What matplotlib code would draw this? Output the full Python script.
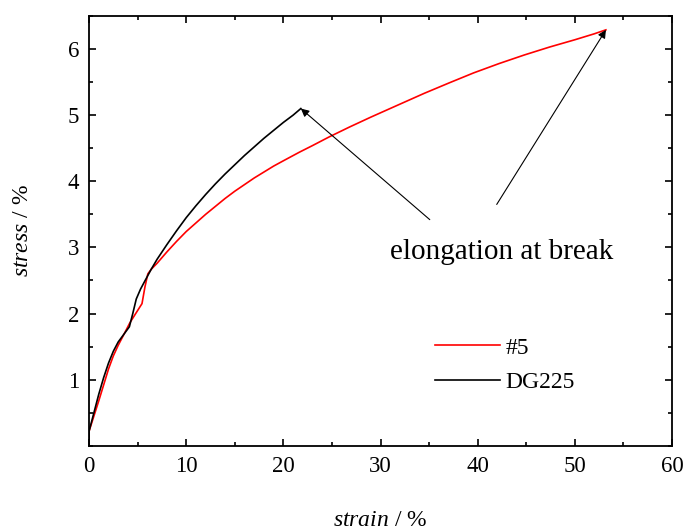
import numpy as np
import matplotlib
matplotlib.use("Agg")
import matplotlib.pyplot as plt
from matplotlib.ticker import MultipleLocator

# stress-strain curves
strain_5 = [0, 0, 0.5, 1, 1.5, 2, 2.5, 3, 3.5, 4.2, 4.8, 5.45, 5.75, 6.05, 6.4, 7, 8, 9,
            10, 11, 12, 13, 14, 15, 16, 17, 18, 19, 20, 21.65, 23, 24.7, 26.8, 29,
            31.9, 34.5, 37.1, 39.6, 42.2, 44.8, 47.4, 50, 52, 53.2]
stress_5 = [0, 0.22, 0.45, 0.68, 0.92, 1.16, 1.36, 1.52, 1.66, 1.86, 2.0, 2.15, 2.4, 2.6, 2.67, 2.76, 2.93, 3.09,
            3.24, 3.37, 3.5, 3.62, 3.74, 3.85, 3.95, 4.05, 4.14, 4.23, 4.31, 4.44, 4.54, 4.67, 4.82, 4.97,
            5.16, 5.33, 5.49, 5.64, 5.78, 5.91, 6.03, 6.14, 6.23, 6.29]

strain_dg = [0, 0, 0.5, 1, 1.5, 2, 2.5, 3, 3.5, 4.15, 4.5, 4.86, 5.3, 5.7, 6.4, 7, 8, 9,
             10, 11, 12, 13, 14, 15, 16, 17, 18, 19, 20, 21, 21.8]
stress_dg = [0, 0.22, 0.5, 0.78, 1.03, 1.25, 1.43, 1.57, 1.67, 1.8, 2.0, 2.22, 2.37, 2.48, 2.67, 2.82, 3.04, 3.25,
             3.45, 3.63, 3.8, 3.96, 4.11, 4.25, 4.39, 4.52, 4.65, 4.77, 4.89, 5.0, 5.1]

plt.rcParams['font.family'] = ['Liberation Serif', 'DejaVu Serif']
plt.rcParams['mathtext.fontset'] = 'custom'
plt.rcParams['mathtext.rm'] = 'Liberation Serif'
plt.rcParams['mathtext.it'] = 'Liberation Serif:italic'

fig, ax = plt.subplots(figsize=(6.85, 5.32), dpi=100)
fig.subplots_adjust(left=0.13, right=0.981, top=0.97, bottom=0.162)

ax.plot(strain_5, stress_5, color='red', lw=1.2, label='#5')
ax.plot(strain_dg, stress_dg, color='black', lw=1.2, label='DG225')

ax.set_xlim(0, 60)
ax.set_ylim(0, 6.5)
ax.xaxis.set_major_locator(MultipleLocator(10))
ax.xaxis.set_minor_locator(MultipleLocator(5))
ax.yaxis.set_major_locator(MultipleLocator(1))
ax.yaxis.set_minor_locator(MultipleLocator(0.5))
ax.set_yticks([1, 2, 3, 4, 5, 6])
ax.tick_params(which='both', direction='in', top=True, right=True, labelsize=16.5, width=1.2)
ax.tick_params(which='major', length=5, pad=7)
ax.tick_params(which='minor', length=3)
for s in ax.spines.values():
    s.set_linewidth(1.3)

ax.set_xlabel('$\\it{strain}$ / %', fontsize=17, labelpad=24)
ax.set_ylabel('$\\it{stress}$ / %', fontsize=17, labelpad=25)

# arrows to break points
ax.annotate('', xy=(strain_dg[-1], stress_dg[-1]), xytext=(35.07, 3.42),
            arrowprops=dict(arrowstyle='-|>', color='black', lw=0.8, mutation_scale=12,
                            shrinkA=0, shrinkB=0))
ax.annotate('', xy=(strain_5[-1], stress_5[-1]), xytext=(41.96, 3.65),
            arrowprops=dict(arrowstyle='-|>', color='black', lw=0.8, mutation_scale=12,
                            shrinkA=0, shrinkB=0))
ax.text(30.95, 2.82, 'elongation at break', fontsize=21, va='baseline')

ax.legend(loc='upper left', bbox_to_anchor=(0.593, 0.253), frameon=False, fontsize=17,
          handlelength=2.75, handletextpad=0.25, labelspacing=0.55,
          borderpad=0, borderaxespad=0)

fig.savefig('out.png', dpi=100)
